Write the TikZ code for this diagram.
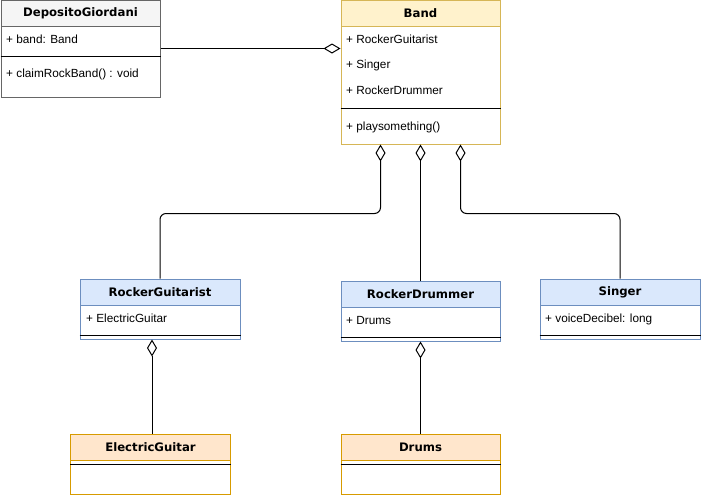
\documentclass[tikz,border=0pt]{standalone}
\usepackage{fontspec}
\setmainfont{Liberation Sans}
\newfontfamily\titlefont{DejaVu Sans}
\usepackage{tikz}
\usetikzlibrary{arrows.meta,positioning}

\definecolor{greyfill}{HTML}{F5F5F5}
\definecolor{greyline}{HTML}{666666}
\definecolor{yellowfill}{HTML}{FFF2CC}
\definecolor{yellowline}{HTML}{D6B656}
\definecolor{bluefill}{HTML}{DAE8FC}
\definecolor{blueline}{HTML}{6C8EBF}
\definecolor{orangefill}{HTML}{FFE6CC}
\definecolor{orangeline}{HTML}{D79B00}

\begin{document}
\begin{tikzpicture}[x=1pt,y=-1pt,
	box/.style={draw, fill=white, line width=1pt, minimum width=159pt, inner sep=0},
	head/.style={draw, line width=1pt, minimum width=159pt, minimum height=26pt, anchor=north, inner sep=0,
		font=\titlefont\bfseries\fontsize{11.7}{14}\selectfont},
	attr/.style={anchor=west, inner sep=0, text height=10pt, text depth=2pt, font=\fontsize{11.8}{14}\selectfont},
	sep/.style={line width=1pt},
	aggr/.style={line width=1pt, rounded corners=6pt, -{Diamond[open, length=17pt, width=10pt, line width=1pt]}}]
				\useasboundingbox (0,0) rectangle (701,496);
				
				\node[box, draw=greyline, minimum height=97pt] (dep) at (80.5,48.5) {};
				\node[head, fill=greyfill, draw=greyline] (dephead) at (dep.north) {DepositoGiordani};
				\node[attr] (depattr) at (6,39) {+ band: Band};
				\draw [sep] (dep.west |- 0,56) -- (dep.east |- 0,56);
				\node[attr] (depop) at (6,73) {+ claimRockBand() : void};
				
				\node[box, draw=yellowline, minimum height=144pt] (band) at (420.5,72) {};
				\node[head, fill=yellowfill, draw=yellowline] (bandhead) at (band.north) {Band};
				\node[attr] (bandattr1) at (346,39) {+ RockerGuitarist};
				\node[attr] (bandattr2) at (346,64.5) {+ Singer};
				\node[attr] (bandattr3) at (346,90) {+ RockerDrummer};
				\draw [sep] (band.west |- 0,108) -- (band.east |- 0,108);
				\node[attr] (bandop) at (346,126) {+ playsomething()};
				
				\node[box, draw=blueline, minimum width=160pt, minimum height=60pt] (rg) at (160,309) {};
				\node[head, fill=bluefill, draw=blueline, minimum width=160pt] (rghead) at (rg.north) {RockerGuitarist};
				\node[attr] (rgattr) at (86,318) {+ ElectricGuitar};
				\draw [sep] (rg.west |- 0,335.5) -- (rg.east |- 0,335.5);
				
				\node[box, draw=blueline, minimum height=60pt] (rd) at (420.5,311) {};
				\node[head, fill=bluefill, draw=blueline] (rdhead) at (rd.north) {RockerDrummer};
				\node[attr] (rdattr) at (346,320) {+ Drums};
				\draw [sep] (rd.west |- 0,337.5) -- (rd.east |- 0,337.5);
				
				\node[box, draw=blueline, minimum width=160pt, minimum height=60pt] (singer) at (620,309) {};
				\node[head, fill=bluefill, draw=blueline, minimum width=160pt] (singerhead) at (singer.north) {Singer};
				\node[attr] (singerattr) at (545,318) {+ voiceDecibel: long};
				\draw [sep] (singer.west |- 0,335.5) -- (singer.east |- 0,335.5);
				
				\node[box, draw=orangeline, minimum width=160pt, minimum height=60pt] (eg) at (150.5,464) {};
				\node[head, fill=orangefill, draw=orangeline, minimum width=160pt] (eghead) at (eg.north) {ElectricGuitar};
				\draw [sep] (eg.west |- 0,464) -- (eg.east |- 0,464);
				
				\node[box, draw=orangeline, minimum height=60pt] (drums) at (420.5,464) {};
				\node[head, fill=orangefill, draw=orangeline] (drumshead) at (drums.north) {Drums};
				\draw [sep] (drums.west |- 0,464) -- (drums.east |- 0,464);
				
				\draw [aggr] (dep.east) to (dep.east -| band.west);
				\draw [aggr] (rg.north) -- ++(0,-65) -| ([xshift=-40pt]band.south);
				\draw [aggr] (rd.north) to (rd.north |- band.south);
				\draw [aggr] (singer.north) -- ++(0,-65) -| ([xshift=40pt]band.south);
				\draw [aggr] ([xshift=1.5pt]eg.north) to ([xshift=1.5pt]eg.north |- rg.south);
				\draw [aggr] (drums.north) to (drums.north |- rd.south);
				\end{tikzpicture}
\end{document}
